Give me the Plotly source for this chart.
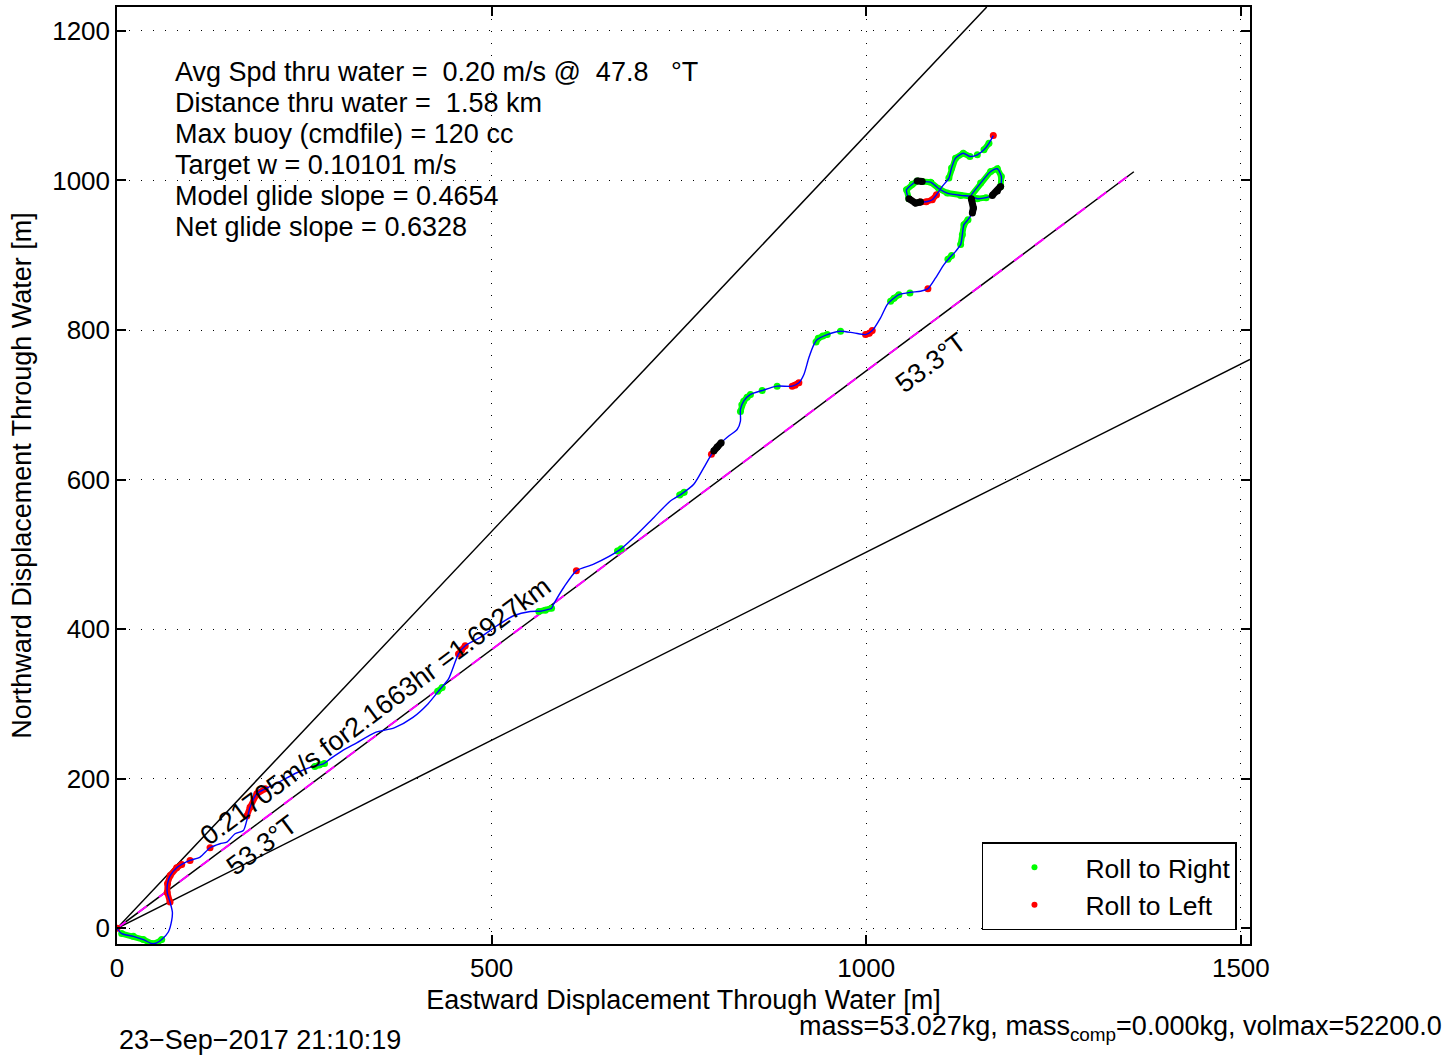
import numpy as np
import plotly.graph_objects as go

# ---------------- data ----------------
track_x = [0, 6.3, 21.8, 35.2, 46.3, 53, 59.7, 68.5, 73, 73.9, 70.8, 67, 67.5, 71, 79.7, 86.4,
           97.5, 110.9, 124.2, 137.6, 146.5, 157.6, 168.7, 173.2, 177.6, 186.6, 197.7, 215, 240,
           257.8, 266.7, 275.5, 284.5, 300, 320, 345, 370, 395, 415, 431.4, 442.5, 455.8, 464.8,
           484.8, 507.1, 529.3, 551.6, 565, 571.7, 580, 582.8, 596.2, 613.1, 636.2, 670.9, 689.6,
           716.3, 738.6, 754.2, 769.8, 783.2, 793.4, 796.5, 806.4, 816.5, 827.7, 832.1, 832.1,
           836.5, 845.5, 861.1, 881.1, 901.2, 910.1, 916.8, 923.4, 930.1, 934.6, 948, 965.7,
           983.5, 999.1, 1008, 1019.1, 1028, 1034.7, 1043.6, 1059.3, 1072.5, 1082.3, 1092.6,
           1103.7, 1111.8, 1119.4, 1126, 1128.3, 1130.4, 1135.8, 1141.6, 1143, 1140.3, 1139.4,
           1152.7, 1166.1, 1175, 1180.3, 1179.4, 1175, 1168.2, 1160, 1148.3, 1139.4, 1126, 1108.2,
           1097, 1085.9, 1074.7, 1068, 1061.4, 1053.8, 1056.9, 1065.8, 1072.5, 1080, 1088.1,
           1093.8, 1101.5, 1110.3, 1113.9, 1119.2, 1129.5, 1138.4, 1148.3, 1157.1, 1163.8, 1169.6]
track_y = [0, -7.1, -10.7, -15.1, -20.4, -19.6, -15.1, -4.9, 10.7, 21.8, 35.1, 48, 60, 70.5, 81,
           85.4, 90.8, 95.2, 107.7, 113.1, 115.2, 126.4, 130.8, 144.2, 162, 179.8, 186.5, 195,
           208, 215.2, 217.6, 219.9, 226.6, 237, 248, 262, 268, 282, 300, 320, 333.4, 366.8,
           377.8, 389, 404.5, 417.9, 423.6, 424, 425.4, 428, 433.4, 455.7, 478, 486.9, 506,
           522.4, 549.1, 571.4, 581.2, 593.7, 615.9, 633.7, 638.2, 649.3, 658.2, 667, 678.2,
           693.8, 704.9, 713.8, 719.1, 724.9, 724.9, 729.4, 740.5, 762.8, 780.5, 787.2, 793.9,
           798.4, 796.1, 793.9, 799.2, 816.2, 834, 840.7, 847.3, 850.5, 851.8, 855.3, 869.6,
           887.3, 897.2, 905.2, 914.2, 927.5, 940.9, 947.5, 956.4, 963.1, 975.6, 978.6, 996.4,
           1012, 1015.6, 1005.3, 992, 986, 980, 977, 975.6, 978.6, 980, 983.1, 988.9, 997.7,
           998.5, 999.4, 995, 987.6, 975.6, 969.7, 971.1, 971.5, 974.2, 980.8, 992, 1003.1,
           1016.5, 1029.8, 1036.4, 1032, 1034.2, 1040.9, 1049.7, 1060]

# roll to right (green) segments, None separates segments
right_x = [6.3, 21.8, 35.2, 46.3, 53, 59.7, None, 264, 270, 277, None, 428, 434, None,
           563, 571.7, 580, None, 668, 673, None, 751, 757, None, 832.1, 834, 836.5, 841, 845.5,
           None, 861.1, None, 881.1, None, 933, 936, 942, 948, None, 965.7, None,
           1032.5, 1037, 1043.6, None, 1058.3, None, 1109, 1114, None,
           1126, 1128.3, 1130.4, 1135.8, None,
           1139.4, 1152.7, 1166.1, 1175, 1180.3, 1179.4, None,
           1160, 1148.3, 1139.4, 1126, 1108.2, 1097, 1085.9, 1074.7, None,
           1068, 1061.4, 1053.8, 1056.9, None,
           1110.3, 1113.9, 1119.2, 1129.5, 1138.4, None, 1148.3, None, 1157.1, 1163.8]
right_y = [-7.1, -10.7, -15.1, -20.4, -19.6, -15.1, None, 216.5, 218.5, 220.5, None, 317, 322, None,
           423.5, 425.4, 428, None, 504.5, 507.5, None, 579.5, 583, None, 691, 700, 704.9, 710, 713.8,
           None, 719.1, None, 724.9, None, 784, 789, 792, 793.9, None, 798.4, None,
           838.5, 842.5, 847.3, None, 849.5, None, 894.5, 899.5, None,
           914.2, 927.5, 940.9, 947.5, None,
           978.6, 996.4, 1012, 1015.6, 1005.3, 992, None,
           977, 975.6, 978.6, 980, 983.1, 988.9, 997.7, 998.5, None,
           999.4, 995, 987.6, 975.6, None,
           1003.1, 1016.5, 1029.8, 1036.4, 1032, None, 1034.2, None, 1040.9, 1049.7]

# roll to left (red) segments
left_x = [0, None, 70.8, 67, 67.5, 71, 79.7, 86.4, None, 97.5, None, 124.2, None,
          173.2, 177.6, 186.6, 197.7, None, 455.8, 460, 464.8, None, 613.1, None, 793.4, None,
          901.2, 905, 910.1, None, 999.1, 1004, 1008, None, 1082.3, None,
          1072.5, 1080, 1088.1, 1093.8, None, 1169.6]
left_y = [0, None, 35.1, 48, 60, 70.5, 81, 85.4, None, 90.8, None, 107.7, None,
          150, 162, 179.8, 186.5, None, 366.8, 372, 377.8, None, 478, None, 633.7, None,
          724.9, 726, 729.4, None, 793.9, 795.5, 799.2, None, 855.3, None,
          971.1, 971.5, 974.2, 980.8, None, 1060]

# other (black) segments
other_x = [796.5, 801, 806.4, None, 1141.6, 1143, 1140.3, None, 1179.4, 1175, 1168.2, None,
           1074.7, 1068, None, 1056.9, 1065.8, 1072.5]
other_y = [638.2, 643.5, 649.3, None, 956.4, 963.1, 975.6, None, 992, 986, 980, None,
           998.5, 999.4, None, 975.6, 969.7, 971.1]

heading_deg = 53.3
spread_deg = 10.0
dist_km = 1.6927

info_lines = ["Avg Spd thru water =\u00a0 0.20 m/s @\u00a0 47.8\u00a0\u00a0 °T",
              "Distance thru water =\u00a0 1.58 km",
              "Max buoy (cmdfile) = 120 cc",
              "Target w = 0.10101 m/s",
              "Model glide slope = 0.4654",
              "Net glide slope = 0.6328"]
speed_label = "0.21705m/s for2.1663hr =1.6927km"
heading_label = "53.3°T"
date_label = "23\u2212Sep\u22122017 21:10:19"
mass_label = "mass=53.027kg, mass<sub>comp</sub>=0.000kg, volmax=52200.0"

x_ticks = [0, 500, 1000, 1500]
y_ticks = [0, 200, 400, 600, 800, 1000, 1200]

# ---------------- figure ----------------
FONT = "Liberation Sans, Arial, Helvetica, sans-serif"
FS = 27
fig = go.Figure()

L = dist_km * 1000
def ray(h):
    r = np.radians(h)
    return [0, L * np.sin(r)], [0, L * np.cos(r)]

for h in (heading_deg - spread_deg, heading_deg + spread_deg):
    rx, ry = ray(h)
    fig.add_trace(go.Scatter(x=rx, y=ry, mode="lines", line=dict(color="black", width=1.5),
                             showlegend=False, hoverinfo="skip"))
mx, my = ray(heading_deg)
fig.add_trace(go.Scatter(x=mx, y=my, mode="lines", line=dict(color="black", width=1.5),
                         showlegend=False, hoverinfo="skip"))
fig.add_trace(go.Scatter(x=mx, y=my, mode="lines",
                         line=dict(color="#ff00ff", width=2, dash="11px,15px"),
                         showlegend=False, hoverinfo="skip"))

fig.add_trace(go.Scatter(x=right_x, y=right_y, mode="lines+markers",
                         line=dict(color="#00ff00", width=6), marker=dict(color="#00ff00", size=7),
                         showlegend=False, hoverinfo="skip"))
fig.add_trace(go.Scatter(x=left_x, y=left_y, mode="lines+markers",
                         line=dict(color="#ff0000", width=6), marker=dict(color="#ff0000", size=7),
                         showlegend=False, hoverinfo="skip"))
fig.add_trace(go.Scatter(x=track_x, y=track_y, mode="lines",
                         line=dict(color="#0000ff", width=1.4, shape="spline", smoothing=0.7),
                         showlegend=False, hoverinfo="skip"))
fig.add_trace(go.Scatter(x=other_x, y=other_y, mode="lines+markers",
                         line=dict(color="black", width=7), marker=dict(color="black", size=7),
                         showlegend=False, hoverinfo="skip"))

fig.add_trace(go.Scatter(x=[None], y=[None], mode="markers", name="Roll to Right",
                         marker=dict(color="#00ff00", size=6)))
fig.add_trace(go.Scatter(x=[None], y=[None], mode="markers", name="Roll to Left",
                         marker=dict(color="#ff0000", size=6)))

ann = []
info_x, info_y0, info_dy = 0.0494, 0.9308, 0.0332
for i, t in enumerate(info_lines):
    ann.append(dict(x=info_x, y=info_y0 - i * info_dy, xref="paper", yref="paper", text=t,
                    showarrow=False, xanchor="left", yanchor="middle", align="left",
                    font=dict(size=FS, color="black", family=FONT)))
ang = float(np.degrees(np.arctan2(my[1], mx[1])))
ann.append(dict(x=345, y=291, xref="x", yref="y", text=speed_label, showarrow=False,
                textangle=-ang, font=dict(size=FS, color="black", family=FONT)))
ann.append(dict(x=1086, y=756, xref="x", yref="y", text=heading_label, showarrow=False,
                textangle=-ang, font=dict(size=FS, color="black", family=FONT)))
ann.append(dict(x=194, y=111, xref="x", yref="y", text=heading_label, showarrow=False,
                textangle=-ang, font=dict(size=FS, color="black", family=FONT)))
ann.append(dict(x=0, y=-0.1022, xref="paper", yref="paper", text=date_label, showarrow=False,
                xanchor="left", yanchor="middle", font=dict(size=FS, color="black", family=FONT)))
ann.append(dict(x=0.6002, y=-0.0895, xref="paper", yref="paper", text=mass_label, showarrow=False,
                xanchor="left", yanchor="middle", font=dict(size=FS, color="black", family=FONT)))

axis_common = dict(showgrid=True, gridcolor="black", griddash="1px,11px", gridwidth=1,
                   zeroline=False, showline=True, linecolor="black", linewidth=1.5,
                   mirror="ticks", ticks="inside", ticklen=9, tickcolor="black", tickwidth=1.5,
                   tickfont=dict(size=26, color="black", family=FONT))
fig.update_xaxes(range=[0, L * np.sin(np.radians(heading_deg + spread_deg))],
                 tickvals=x_ticks, ticktext=[str(v) for v in x_ticks],
                 title=dict(text="Eastward Displacement Through Water [m]",
                            font=dict(size=FS, color="black", family=FONT), standoff=8),
                 **axis_common)
fig.update_yaxes(range=[-21, L * np.cos(np.radians(heading_deg - spread_deg))],
                 tickvals=y_ticks, ticktext=[str(v) for v in y_ticks],
                 title=dict(text="Northward Displacement Through Water [m]",
                            font=dict(size=FS, color="black", family=FONT), standoff=13),
                 **axis_common)

fig.update_layout(width=1450, height=1059, margin=dict(l=117, r=200, t=5, b=115),
                  paper_bgcolor="white", plot_bgcolor="white",
                  font=dict(family=FONT, size=FS, color="black"),
                  annotations=ann,
                  legend=dict(x=0.9885, y=0.0149, xanchor="right", yanchor="bottom",
                              bgcolor="white", bordercolor="black", borderwidth=1.5,
                              itemwidth=92, tracegroupgap=0,
                              font=dict(size=26.5, color="black", family=FONT)))

fig.write_html("out.html", config={"displayModeBar": False},
               post_script="document.body.style.margin='0px';")
